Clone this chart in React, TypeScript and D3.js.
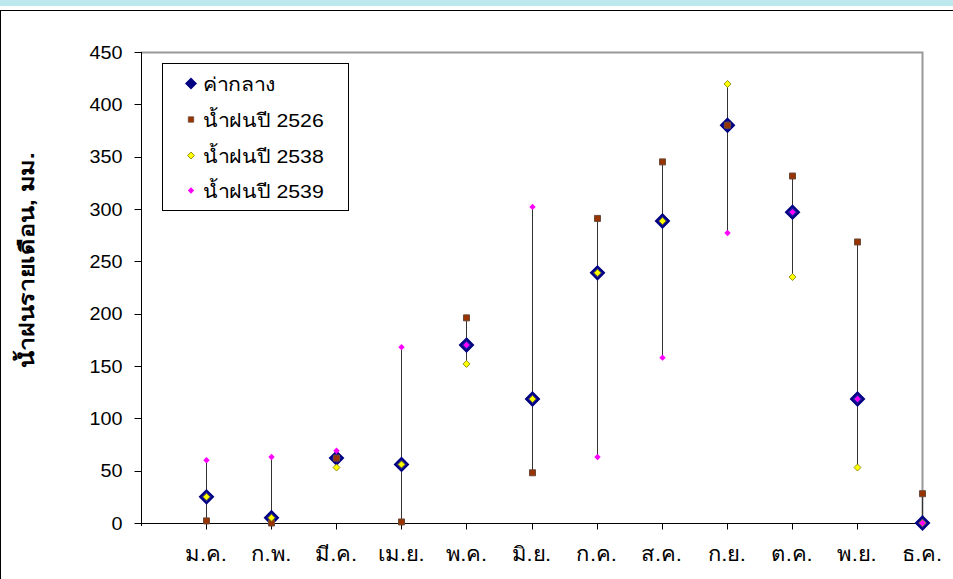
import React, { useEffect, useRef } from 'react';
import * as d3 from 'd3';

const months = ['ม.ค.', 'ก.พ.', 'มี.ค.', 'เม.ย.', 'พ.ค.', 'มิ.ย.', 'ก.ค.', 'ส.ค.', 'ก.ย.', 'ต.ค.', 'พ.ย.', 'ธ.ค.'];
const median = [25, 5, 62, 56, 170, 118.5, 239, 288.5, 380, 297, 118.5, 0];
const rain2526 = [2, 0, 62, 1, 196, 48, 291, 345, 380, 331.5, 268.5, 28];
const rain2538 = [25, 5, 53, 56, 152, 118.5, 239, 288.5, 419.5, 235, 53, 0];
const rain2539 = [60, 63, 69, 168, 170, 302, 63, 158, 277, 297, 118.5, 0];
const yTicks = [0, 50, 100, 150, 200, 250, 300, 350, 400, 450];
const seriesNames = ['ค่ากลาง', 'น้ำฝนปี 2526', 'น้ำฝนปี 2538', 'น้ำฝนปี 2539'];

const W = 953;
const H = 579;
const FONT = "Arial, 'Liberation Sans', 'DejaVu Sans', sans-serif";

const App = () => {
  const ref = useRef<SVGSVGElement>(null);

  useEffect(() => {
    const svg = d3.select(ref.current);
    svg.selectAll('*').remove();

    // window strip + frame
    svg.append('rect').attr('x', 0).attr('y', 0).attr('width', W).attr('height', 6).attr('fill', '#bde9ee');
    svg.append('line').attr('x1', 0).attr('x2', W).attr('y1', 10.5).attr('y2', 10.5).attr('stroke', '#000');
    svg.append('line').attr('x1', 0.5).attr('x2', 0.5).attr('y1', 10).attr('y2', H).attr('stroke', '#000');

    const left = 141;
    const right = 922;
    const x = d3.scaleLinear().domain([0, 12]).range([left, right]);
    const y = d3.scaleLinear().domain([0, 450]).range([523, 52]);

    // plot border top/right
    svg.append('path')
      .attr('d', `M${left},${y(450) + 0.5}H${right + 0.5}V${y(0)}`)
      .attr('fill', 'none').attr('stroke', '#999').attr('stroke-width', 2);

    // y axis
    const yAxis = svg.append('g').attr('transform', `translate(${left + 0.5},0)`);
    yAxis.append('line').attr('y1', y(450)).attr('y2', y(0) + 3).attr('stroke', '#000');
    yAxis.selectAll('line.tick').data(yTicks).enter().append('line')
      .attr('x1', -7).attr('x2', 0)
      .attr('y1', d => Math.round(y(d)) + 0.5).attr('y2', d => Math.round(y(d)) + 0.5)
      .attr('stroke', '#000');
    yAxis.selectAll('text').data(yTicks).enter().append('text')
      .attr('transform', d => `translate(-19,${y(d) + 6.5}) scale(1.1,1)`)
      .attr('text-anchor', 'end')
      .attr('font-family', FONT).attr('font-size', 18)
      .text(d => d);

    // x axis
    const xAxis = svg.append('g').attr('transform', `translate(0,${y(0) + 0.5})`);
    xAxis.append('line').attr('x1', left).attr('x2', right).attr('stroke', '#000');
    xAxis.selectAll('line.tick').data(months).enter().append('line')
      .attr('x1', (d, i) => Math.round(x(i + 1)) + 0.5).attr('x2', (d, i) => Math.round(x(i + 1)) + 0.5)
      .attr('y1', 0).attr('y2', 6).attr('stroke', '#000');
    xAxis.selectAll('text').data(months).enter().append('text')
      .attr('transform', (d, i) => `translate(${x(i + 1)},37) scale(1.1,1)`)
      .attr('text-anchor', 'middle')
      .attr('font-family', FONT).attr('font-size', 20)
      .text(d => d);

    // y title
    svg.append('text')
      .attr('transform', `translate(34,260) rotate(-90) scale(1.25,1)`)
      .attr('text-anchor', 'middle')
      .attr('font-family', FONT).attr('font-size', 20).attr('font-weight', 'bold')
      .text('น้ำฝนรายเดือน, มม.');

    // high-low lines
    const all = [rain2526, rain2538, rain2539];
    svg.append('g').selectAll('line').data(months).enter().append('line')
      .attr('x1', (d, i) => Math.round(x(i + 1)) + 0.5).attr('x2', (d, i) => Math.round(x(i + 1)) + 0.5)
      .attr('y1', (d, i) => y(d3.max(all, s => s[i]) as number))
      .attr('y2', (d, i) => y(d3.min(all, s => s[i]) as number))
      .attr('stroke', '#333').attr('stroke-width', 1);

    const diamond = (r: number) => `M0,${-r}L${r},0L0,${r}L${-r},0Z`;
    const square = (r: number) => `M${-r},${-r}H${r}V${r}H${-r}Z`;

    const drawMarks = (data: number[], d: string, fill: string, stroke: string, sw: number) => {
      svg.append('g').selectAll('path').data(data).enter().append('path')
        .attr('transform', (v, i) => `translate(${Math.round(x(i + 1)) + 0.5},${y(v)})`)
        .attr('d', d).attr('fill', fill).attr('stroke', stroke).attr('stroke-width', sw);
    };

    drawMarks(median, diamond(6.5), '#1a1aa0', '#000080', 2);
    drawMarks(rain2526, square(3), '#993300', '#6b4a3a', 1);
    drawMarks(rain2538, diamond(3.5), '#ffff00', '#7a7a00', 0.8);
    drawMarks(rain2539, diamond(3.2), '#ff00ff', 'none', 0);

    // legend
    const lg = svg.append('g').attr('transform', 'translate(162.5,63.5)');
    lg.append('rect').attr('width', 186).attr('height', 147).attr('fill', '#fff').attr('stroke', '#000');
    const rowY = [20, 56, 92, 127];
    const markers = [
      { d: diamond(6), fill: '#000080', stroke: 'none' },
      { d: square(2.7), fill: '#993300', stroke: '#6b4a3a' },
      { d: diamond(3.5), fill: '#ffff00', stroke: '#7a7a00' },
      { d: diamond(3.2), fill: '#ff00ff', stroke: 'none' },
    ];
    seriesNames.forEach((name, i) => {
      lg.append('path').attr('transform', `translate(28.5,${rowY[i]})`)
        .attr('d', markers[i].d).attr('fill', markers[i].fill).attr('stroke', markers[i].stroke).attr('stroke-width', 0.8);
      lg.append('text')
        .attr('transform', `translate(40.5,${rowY[i] + 7}) scale(1.12,1)`)
        .attr('font-family', FONT).attr('font-size', 19)
        .text(name);
    });
  }, []);

  return (
    <div style={{ position: 'fixed', left: 0, top: 0 }}>
      <svg ref={ref} width={W} height={H} style={{ display: 'block', background: '#fff' }} />
    </div>
  );
};

export default App;
